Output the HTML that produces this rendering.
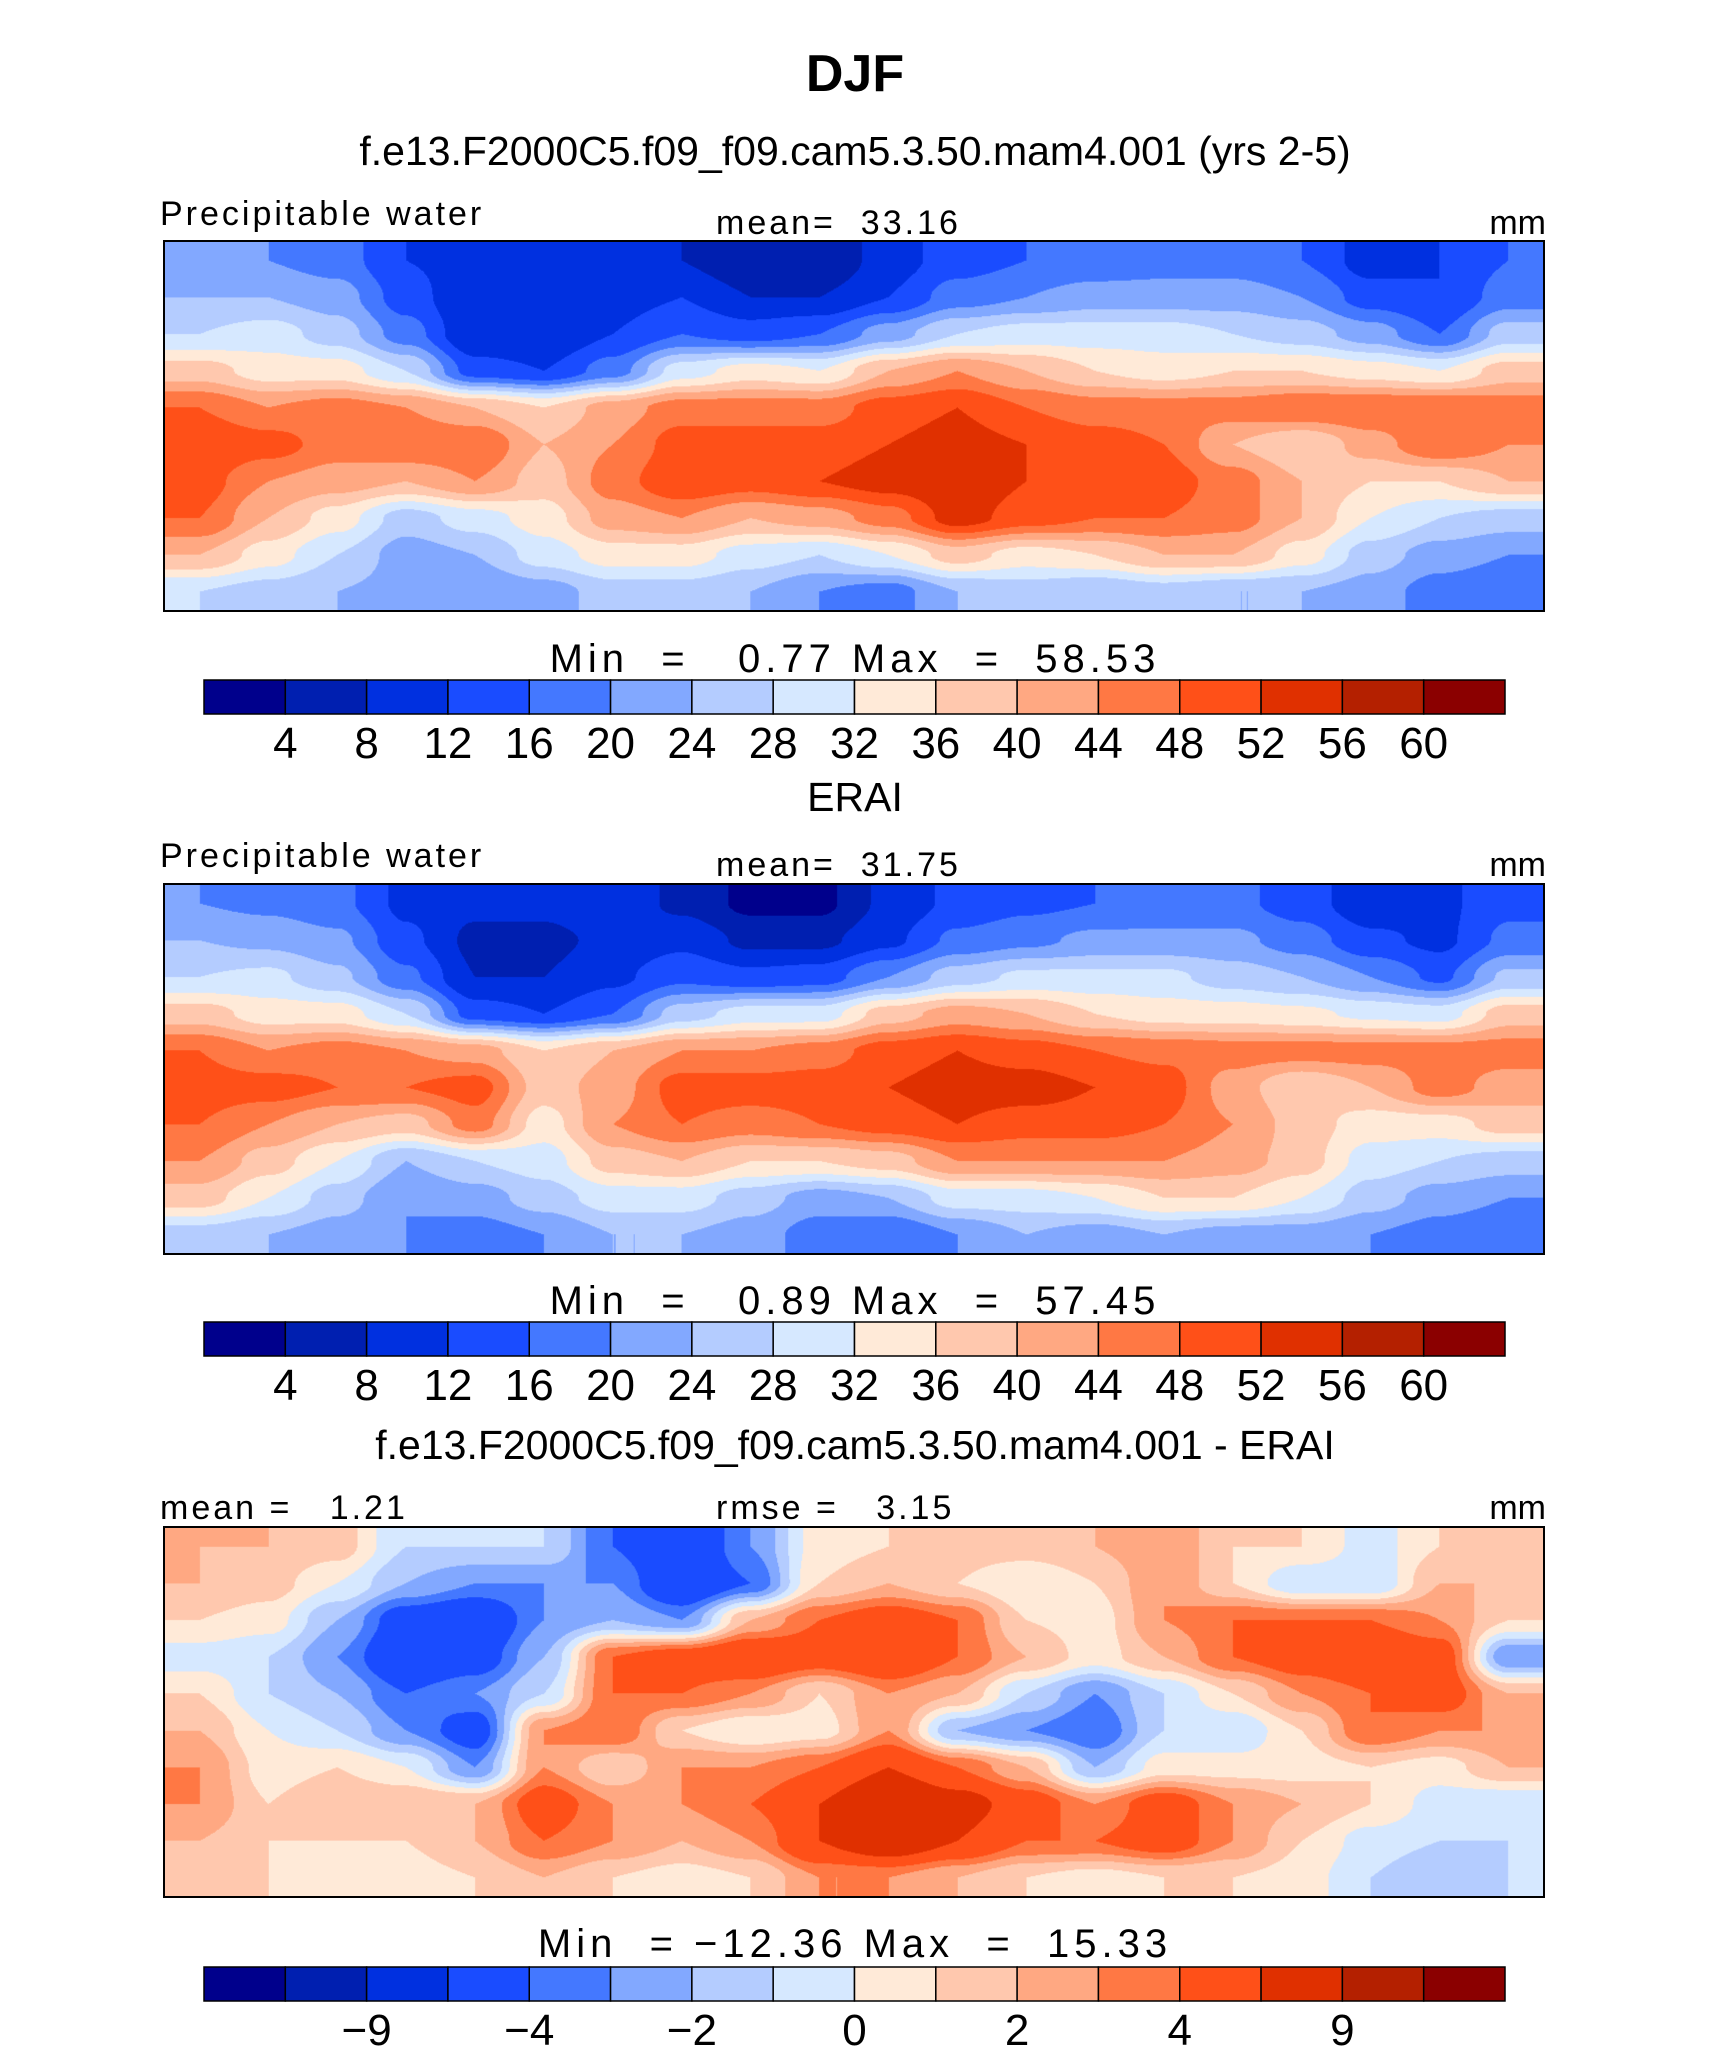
<!DOCTYPE html>
<html><head><meta charset="utf-8">
<style>
body{margin:0;background:#fff;}
#root{position:relative;width:1710px;height:2048px;overflow:hidden;font-family:"Liberation Sans",sans-serif;color:#000;}
.t{position:absolute;white-space:nowrap;line-height:1;}
canvas{position:absolute;border:2px solid #000;box-sizing:border-box;}
svg{position:absolute;left:0;top:0;}
.lab{font-size:34px;letter-spacing:3px;}
.mm{font-size:40px;letter-spacing:5px;}
</style></head><body>
<div id="root">
<div class="t" style="left:0;width:1710px;text-align:center;top:48px;font-size:52px;font-weight:bold;">DJF</div>
<div class="t" style="left:0;width:1710px;text-align:center;top:131px;font-size:41px;">f.e13.F2000C5.f09_f09.cam5.3.50.mam4.001 (yrs 2-5)</div>
<div class="t lab" style="left:160px;top:197px;">Precipitable water</div>
<div class="t lab" style="left:716px;top:206px;">mean=&nbsp;&nbsp;33.16</div>
<div class="t lab" style="left:1440px;width:106px;text-align:right;top:206px;letter-spacing:0;">mm</div>
<canvas id="m1" width="1382" height="372" style="left:163px;top:240px;width:1382px;height:372px;"></canvas>
<div class="t mm" style="left:0;width:1710px;text-align:center;top:639px;">Min&nbsp; =&nbsp;&nbsp; 0.77 Max&nbsp; =&nbsp; 58.53</div>
<div class="t" style="left:0;width:1710px;text-align:center;top:777px;font-size:41px;">ERAI</div>
<div class="t lab" style="left:160px;top:839px;">Precipitable water</div>
<div class="t lab" style="left:716px;top:848px;">mean=&nbsp;&nbsp;31.75</div>
<div class="t lab" style="left:1440px;width:106px;text-align:right;top:848px;letter-spacing:0;">mm</div>
<canvas id="m2" width="1382" height="372" style="left:163px;top:883px;width:1382px;height:372px;"></canvas>
<div class="t mm" style="left:0;width:1710px;text-align:center;top:1281px;">Min&nbsp; =&nbsp;&nbsp; 0.89 Max&nbsp; =&nbsp; 57.45</div>
<div class="t" style="left:0;width:1710px;text-align:center;top:1425px;font-size:41px;">f.e13.F2000C5.f09_f09.cam5.3.50.mam4.001 - ERAI</div>
<div class="t lab" style="left:160px;top:1491px;">mean =&nbsp;&nbsp; 1.21</div>
<div class="t lab" style="left:716px;top:1491px;">rmse =&nbsp;&nbsp; 3.15</div>
<div class="t lab" style="left:1440px;width:106px;text-align:right;top:1491px;letter-spacing:0;">mm</div>
<canvas id="m3" width="1382" height="372" style="left:163px;top:1526px;width:1382px;height:372px;"></canvas>
<div class="t mm" style="left:0;width:1710px;text-align:center;top:1924px;">Min&nbsp; = −12.36 Max&nbsp; =&nbsp; 15.33</div>
<svg id="bars" width="1710" height="2048"></svg>
</div>
<script>
const colors=["#00008c","#001fb0","#0030e0","#1a4cff","#4478ff","#82a8ff","#b4ccff","#d6e8ff","#ffead8","#ffc8ae","#ffa882","#ff7844","#ff5018","#e03000","#b42000","#8b0000"];
const pwLevels=[4,8,12,16,20,24,28,32,36,40,44,48,52,56,60];
const pwTickLabels=["4","8","12","16","20","24","28","32","36","40","44","48","52","56","60"];
const diffLevels=[-12,-9,-6,-4,-3,-2,-1,0,1,2,3,4,6,9,12];
const diffTickLabels=["","−9","","−4","","−2","","0","","2","","4","","9",""];
const modelGrid=[
[20,20,18,12,10,10,12,8,4,4,10,14,16,17,18,18,16,10,12,16],
[24,24,22,14,8,8,10,12,8,8,12,18,20,22,22,22,20,14,12,18],
[28,30,26,18,8,8,12,16,14,16,22,28,30,30,30,28,26,22,16,26],
[38,34,34,28,14,12,18,30,34,32,40,44,40,36,34,36,36,34,32,38],
[48,44,46,44,40,36,42,46,46,46,50,52,48,46,46,46,48,48,48,46],
[52,50,46,48,48,40,44,50,50,50,52,54,52,50,48,40,36,42,48,44],
[50,44,42,40,44,38,46,52,50,52,54,56,52,52,50,46,40,36,36,40],
[48,40,34,26,30,34,42,44,40,42,46,54,50,48,48,46,40,32,28,26],
[40,34,28,22,24,30,34,34,30,28,32,38,34,36,40,40,34,26,22,20],
[28,26,24,22,20,22,26,26,24,20,18,24,26,24,26,24,24,22,18,16]];
const obsGrid=[
[20,19,17,11,9,9,11,7,3,3,9,13,15,16,17,17,14,9,11,15],
[24,23,21,13,7,7,9,11,7,7,11,17,19,21,21,21,18,13,11,17],
[28,29,25,17,8,8,11,15,13,14,20,26,29,29,29,26,24,20,15,25],
[38,34,34,28,14,12,16,26,30,30,38,42,40,36,34,34,33,31,30,38],
[48,44,46,44,42,36,40,44,44,46,50,52,50,48,47,46,46,46,46,46],
[50,50,48,48,50,38,42,50,50,50,52,54,54,52,50,42,36,40,46,42],
[48,44,40,38,46,34,44,48,46,48,50,52,50,50,48,44,38,34,34,38],
[44,38,32,24,28,30,38,40,36,36,38,44,44,44,44,42,38,30,28,26],
[38,32,26,20,22,26,30,30,26,22,24,30,30,32,36,36,32,26,22,20],
[26,24,22,20,18,20,24,24,22,18,16,20,24,22,24,22,22,20,18,16]];
const diffGrid=[
[2,2,1.5,-1,-1,-1,-4,-6,-3,0.5,1,1.5,1.5,2,3,1,1,-0.5,1,1],
[2,1.5,0,-2,-3,-3,-3,-6,-4,1,2,1,0,1,3,1,-1,-1,2,2],
[1,0.5,-2,-5,-6,-3,-2,-3,2,4,5,4,1,0.5,3,4,4,4,3,1],
[-0.5,-1,-3,-6,-5,-2,4,5,6,5,6,4,2,0.5,2,4,5,6,5,-3],
[1,-1,-2,-4,-3,-1,4,4,3,1,3,2,-1,-3,-1,1,3,4,5,2],
[2,0,-1,-3,-5,3,4,1,0,0.5,3,-2,-3,-4,-1,-1,1,4,3,3],
[3,0.5,1,0,-3,3,1,3,3,4,6,4,2,-2,0.5,0.5,0.5,1,0.5,2],
[3,1,2,2,2,5,3,3,4,6,9,7,5,3,5,3,2,1,-0.5,-1],
[2,1,1,1,2,4,3,2,3,6,8,6,4,4,5,3,1,-0.5,-1,-1],
[1,1,0.5,0.5,1,2,1,0.5,1,3,3,2,1,0.5,1,1,0.5,-1,-2,-1]];

function hex(c){return [parseInt(c.slice(1,3),16),parseInt(c.slice(3,5),16),parseInt(c.slice(5,7),16)];}
const rgb=colors.map(hex);
function classify(v,lev){let i=0;while(i<lev.length&&v>=lev[i])i++;return i;}
function drawMap(id,grid,lev){
  const cv=document.getElementById(id),ctx=cv.getContext('2d');
  const W=cv.width,H=cv.height,R=grid.length,C=grid[0].length;
  const img=ctx.createImageData(W,H);
  for(let y=0;y<H;y++){
    let gy=(y+0.5)/H*R-0.5;gy=Math.max(0,Math.min(R-1,gy));
    const y0=Math.min(R-2,Math.floor(gy)),fy=gy-y0;
    for(let x=0;x<W;x++){
      let gx=(x+0.5)/W*C-0.5;gx=Math.max(0,Math.min(C-1,gx));
      const x0=Math.min(C-2,Math.floor(gx)),fx=gx-x0;
      const sx=fx*fx*(3-2*fx),sy=fy*fy*(3-2*fy);
      const v=(grid[y0][x0]*(1-sx)+grid[y0][x0+1]*sx)*(1-sy)+(grid[y0+1][x0]*(1-sx)+grid[y0+1][x0+1]*sx)*sy;
      const c=rgb[classify(v,lev)],k=(y*W+x)*4;
      img.data[k]=c[0];img.data[k+1]=c[1];img.data[k+2]=c[2];img.data[k+3]=255;
    }
  }
  ctx.putImageData(img,0,0);
}
drawMap('m1',modelGrid,pwLevels);
drawMap('m2',obsGrid,pwLevels);
drawMap('m3',diffGrid,diffLevels);

const svg=document.getElementById('bars'),NS="http://www.w3.org/2000/svg";
const barX=204,barW=1301,barH=34;
function colorbar(top,labels,name){
  const g=document.createElementNS(NS,'g');
  
  
  const bw=barW/colors.length;
  colors.forEach((c,i)=>{
    const r=document.createElementNS(NS,'rect');
    r.setAttribute('x',barX+i*bw);r.setAttribute('y',top);r.setAttribute('width',bw);r.setAttribute('height',barH);
    r.setAttribute('fill',c);r.setAttribute('stroke','#000');r.setAttribute('stroke-width','1.5');
    
    
    g.appendChild(r);
  });
  labels.forEach((l,i)=>{
    if(!l)return;
    const t=document.createElementNS(NS,'text');
    t.setAttribute('x',barX+(i+1)*bw);t.setAttribute('y',top+barH+44);
    t.setAttribute('text-anchor','middle');t.setAttribute('font-size','44');
    t.setAttribute('font-family','Liberation Sans, sans-serif');
    t.textContent=l;
    
    
    g.appendChild(t);
  });
  svg.appendChild(g);
}
colorbar(680,pwTickLabels,'model-colorbar');
colorbar(1322,pwTickLabels,'obs-colorbar');
colorbar(1967,diffTickLabels,'diff-colorbar');
</script>
</body></html>
